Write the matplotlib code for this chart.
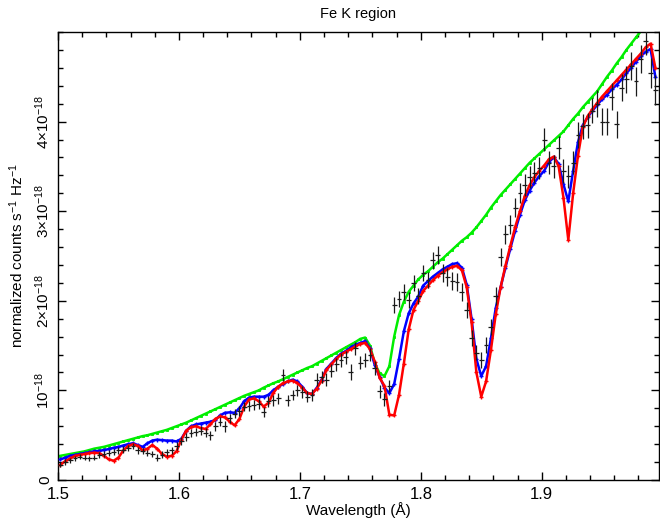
import numpy as np
import matplotlib
matplotlib.use("Agg")
import matplotlib.pyplot as plt
from matplotlib.ticker import MultipleLocator, FuncFormatter

plt.rcParams['font.family'] = ['Liberation Sans', 'DejaVu Sans']
plt.rcParams['mathtext.fontset'] = 'custom'
plt.rcParams['mathtext.rm'] = 'Liberation Sans'
plt.rcParams['mathtext.it'] = 'Liberation Sans:italic'

# Wavelength bins (Angstrom), 0.004 A wide
wavelength = np.round(np.arange(1.502, 1.9945, 0.004), 3)
bin_half = 0.002

# Observed spectrum (units of 1e-18 counts s^-1 Hz^-1)
observed = [
    0.17, 0.20, 0.22, 0.24, 0.26, 0.25, 0.24, 0.25, 0.28, 0.29,
    0.30, 0.31, 0.33, 0.34, 0.36, 0.38, 0.33, 0.32, 0.30, 0.29,
    0.25, 0.28, 0.31, 0.33, 0.38, 0.44, 0.48, 0.52, 0.54, 0.55,
    0.53, 0.50, 0.60, 0.65, 0.60, 0.69, 0.74, 0.77, 0.82, 0.83,
    0.84, 0.85, 0.76, 0.88, 0.89, 0.91, 1.17, 0.89, 0.95, 1.00,
    0.98, 0.93, 0.95, 1.12, 1.15, 1.12, 1.22, 1.29, 1.34, 1.37,
    1.21, 1.47, 1.31, 1.34, 1.40, 1.25, 0.99, 0.90, 1.05, 1.95,
    2.02, 2.10, 2.01, 2.20, 2.05, 2.31, 2.23, 2.45, 2.51, 2.31,
    2.27, 2.22, 2.21, 2.10, 1.90, 1.58, 1.42, 1.34, 1.51, 1.71,
    2.05, 2.49, 2.74, 2.85, 3.04, 3.20, 3.29, 3.38, 3.43, 3.48,
    3.80, 3.54, 3.50, 3.71, 3.45, 3.39, 3.54, 3.85, 3.95, 3.96,
    4.12, 4.20, 4.00, 4.00, 4.28, 3.97, 4.38, 4.47, 4.62, 4.45,
    4.70, 4.90, 4.54, 4.35,
]
observed_err = [
    0.03, 0.03, 0.03, 0.03, 0.03, 0.03, 0.03, 0.03, 0.03, 0.03,
    0.035, 0.035, 0.035, 0.035, 0.035, 0.035, 0.035, 0.035, 0.035, 0.035,
    0.04, 0.04, 0.04, 0.04, 0.04, 0.045, 0.045, 0.045, 0.045, 0.05,
    0.05, 0.05, 0.05, 0.05, 0.06, 0.05, 0.05, 0.055, 0.055, 0.055,
    0.055, 0.055, 0.06, 0.06, 0.06, 0.06, 0.065, 0.06, 0.06, 0.065,
    0.065, 0.065, 0.065, 0.07, 0.07, 0.07, 0.07, 0.07, 0.075, 0.075,
    0.09, 0.075, 0.075, 0.075, 0.075, 0.075, 0.07, 0.07, 0.07, 0.09,
    0.09, 0.09, 0.09, 0.09, 0.09, 0.09, 0.09, 0.10, 0.10, 0.10,
    0.10, 0.10, 0.10, 0.10, 0.09, 0.09, 0.085, 0.085, 0.09, 0.09,
    0.10, 0.10, 0.11, 0.11, 0.11, 0.11, 0.12, 0.12, 0.12, 0.12,
    0.13, 0.13, 0.13, 0.13, 0.13, 0.13, 0.13, 0.14, 0.14, 0.14,
    0.14, 0.15, 0.15, 0.15, 0.15, 0.15, 0.15, 0.15, 0.16, 0.16,
    0.16, 0.16, 0.17, 0.17,
]

# Continuum model (green)
model_continuum = [
    0.27, 0.28, 0.29, 0.30, 0.31, 0.32, 0.335, 0.35, 0.36, 0.37,
    0.385, 0.40, 0.415, 0.43, 0.445, 0.46, 0.475, 0.49, 0.50, 0.515,
    0.53, 0.545, 0.56, 0.58, 0.60, 0.62, 0.64, 0.665, 0.69, 0.715,
    0.74, 0.765, 0.79, 0.815, 0.84, 0.865, 0.89, 0.915, 0.94, 0.96,
    0.98, 1.00, 1.03, 1.055, 1.08, 1.10, 1.125, 1.15, 1.175, 1.20,
    1.225, 1.25, 1.27, 1.30, 1.33, 1.36, 1.39, 1.42, 1.45, 1.48,
    1.51, 1.54, 1.575, 1.59, 1.50, 1.30, 1.19, 1.16, 1.27, 1.60,
    1.84, 1.99, 2.10, 2.17, 2.24, 2.29, 2.33, 2.38, 2.43, 2.47,
    2.52, 2.57, 2.62, 2.67, 2.71, 2.76, 2.82, 2.89, 2.96, 3.04,
    3.11, 3.18, 3.24, 3.30, 3.36, 3.42, 3.48, 3.54, 3.59, 3.64,
    3.69, 3.74, 3.79, 3.84, 3.89, 3.96, 4.03, 4.09, 4.16, 4.22,
    4.28, 4.34, 4.42, 4.50, 4.57, 4.65, 4.72, 4.80, 4.87, 4.94,
    5.01, 5.08, 5.15, 5.22,
]

# Absorbed model A (blue)
model_blue = [
    0.23, 0.25, 0.27, 0.28, 0.29, 0.30, 0.31, 0.32, 0.325, 0.335,
    0.345, 0.36, 0.37, 0.385, 0.40, 0.41, 0.39, 0.37, 0.41, 0.44,
    0.45, 0.445, 0.44, 0.44, 0.43, 0.46, 0.55, 0.60, 0.62, 0.63,
    0.64, 0.65, 0.67, 0.72, 0.75, 0.755, 0.75, 0.80, 0.88, 0.92,
    0.93, 0.93, 0.93, 0.95, 1.00, 1.04, 1.07, 1.10, 1.12, 1.10,
    1.04, 0.97, 0.96, 1.03, 1.12, 1.24, 1.30, 1.36, 1.41, 1.44,
    1.48, 1.51, 1.53, 1.55, 1.47, 1.28, 1.15, 1.03, 0.97, 1.07,
    1.35, 1.66, 1.86, 1.97, 2.05, 2.17, 2.22, 2.27, 2.31, 2.35,
    2.38, 2.41, 2.42, 2.37, 2.18, 1.80, 1.35, 1.16, 1.27, 1.58,
    1.92, 2.15, 2.37, 2.58, 2.78, 2.96, 3.12, 3.23, 3.32, 3.39,
    3.45, 3.55, 3.60, 3.53, 3.30, 3.11, 3.45, 3.77, 3.96, 4.05,
    4.12, 4.19, 4.25, 4.30, 4.36, 4.41, 4.47, 4.54, 4.60, 4.67,
    4.73, 4.78, 4.81, 4.50,
]

# Absorbed model B (red)
model_red = [
    0.17, 0.21, 0.24, 0.27, 0.28, 0.29, 0.30, 0.305, 0.30, 0.27,
    0.23, 0.215, 0.25, 0.33, 0.38, 0.40, 0.38, 0.33, 0.35, 0.39,
    0.35, 0.29, 0.26, 0.27, 0.32, 0.45, 0.55, 0.59, 0.60, 0.58,
    0.57, 0.62, 0.68, 0.71, 0.70, 0.65, 0.61, 0.68, 0.82, 0.90,
    0.91, 0.88, 0.82, 0.86, 0.97, 1.04, 1.08, 1.10, 1.11, 1.08,
    1.03, 0.97, 0.96, 1.02, 1.11, 1.23, 1.29, 1.35, 1.40, 1.43,
    1.46, 1.49, 1.52, 1.53, 1.46, 1.32, 1.14, 1.05, 0.73, 0.72,
    0.95, 1.30, 1.68, 1.90, 2.00, 2.11, 2.17, 2.23, 2.28, 2.32,
    2.35, 2.38, 2.39, 2.34, 2.15, 1.76, 1.20, 0.93, 1.10, 1.45,
    1.85, 2.15, 2.39, 2.61, 2.82, 3.00, 3.17, 3.29, 3.38, 3.45,
    3.51, 3.58, 3.61, 3.50, 3.15, 2.68, 3.20, 3.62, 3.94, 4.06,
    4.14, 4.21, 4.28, 4.34, 4.40, 4.46, 4.52, 4.58, 4.64, 4.70,
    4.76, 4.83, 4.87, 4.60,
]

x_ticks = [1.5, 1.6, 1.7, 1.8, 1.9]
y_ticks = [0, 1, 2, 3, 4]
scale = 1e-18

fig = plt.figure(figsize=(6.6, 5.2), dpi=100)
ax = fig.add_axes([58 / 660, 40 / 520, 601 / 660, 448 / 520])

obs = np.array(observed) * scale
err = np.array(observed_err) * scale

ax.plot(wavelength, np.array(model_continuum) * scale, color='#00ee00', lw=1.8,
        marker='s', ms=1.6, mew=0.6, zorder=2)
ax.plot(wavelength, np.array(model_blue) * scale, color='#0000ff', lw=1.8,
        marker='+', ms=3.5, mew=1.0, zorder=3)
ax.plot(wavelength, np.array(model_red) * scale, color='#ff0000', lw=1.8,
        marker='+', ms=3.5, mew=1.0, zorder=4)
ax.errorbar(wavelength, obs, yerr=err, xerr=bin_half, fmt='none',
            ecolor='#1a1a1a', elinewidth=0.9, capsize=0, zorder=5)

ax.set_xlim(1.5, 1.997)
ax.set_ylim(0, 5.0e-18)
ax.set_xticks(x_ticks)
ax.xaxis.set_minor_locator(MultipleLocator(0.02))
ax.set_yticks([v * scale for v in y_ticks])
ax.yaxis.set_minor_locator(MultipleLocator(0.2e-18))


def y_label_fmt(v, pos):
    n = int(round(v / scale))
    if n == 0:
        return '0'
    if n == 1:
        return r'$10^{-18}$'
    return r'$%d{\times}10^{-18}$' % n


ax.yaxis.set_major_formatter(FuncFormatter(y_label_fmt))
ax.xaxis.set_major_formatter(FuncFormatter(lambda v, p: '%.1f' % v))

ax.tick_params(which='both', direction='in', top=True, right=True, width=1.0)
ax.tick_params(which='major', length=6, labelsize=12, pad=5)
ax.tick_params(which='minor', length=3.5)
for lbl in ax.get_yticklabels():
    lbl.set_rotation(90)
    lbl.set_va('center')
ax.tick_params(axis='y', labelsize=11, pad=4)
for sp in ax.spines.values():
    sp.set_linewidth(1.0)

ax.set_xlabel('Wavelength (Å)', fontsize=11, labelpad=0)
ax.set_ylabel(r'normalized counts s$^{-1}$ Hz$^{-1}$', fontsize=11, labelpad=6)
ax.set_title('Fe K region', fontsize=10.5, pad=10)

fig.savefig('out.png', dpi=100)
